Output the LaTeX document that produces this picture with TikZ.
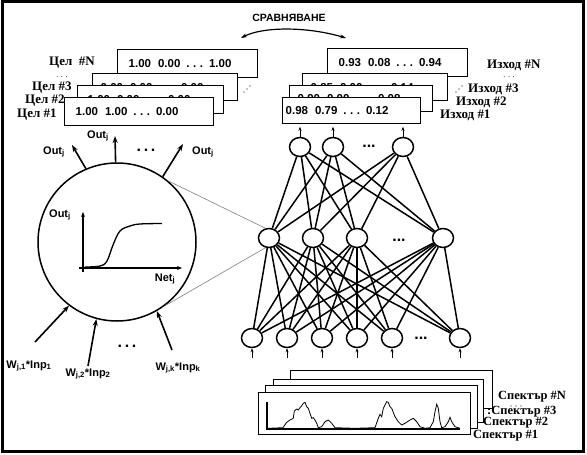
\documentclass[tikz,border=0pt]{standalone}
\usepackage{fontspec}
\setmainfont{Liberation Serif}
\setsansfont{Liberation Sans}
\usetikzlibrary{arrows.meta,shapes.geometric}

\newcommand{\vecrow}[3]{#1\hspace{7pt}#2\hspace{6pt}.\hspace{3.5pt}.\hspace{3.5pt}.\hspace{6pt}#3}
\newcommand{\lowidx}[1]{\textsubscript{#1}}

\begin{document}
\begin{tikzpicture}[
            x=1pt, y=-1pt,
            every node/.style={inner sep=0pt},
            vecbox/.style={draw, fill=white, line width=1.4pt, anchor=north west,
                           align=left, minimum height=28pt,
                           font=\sffamily\bfseries\fontsize{11.5}{11.5}\selectfont},
            setlabel/.style={anchor=west, font=\bfseries\fontsize{13}{13}\selectfont},
            speclabel/.style={anchor=west, font=\bfseries\fontsize{12.5}{12.5}\selectfont},
            sflabel/.style={font=\sffamily\bfseries\fontsize{11}{11}\selectfont},
            dotsrow/.style={font=\sffamily\bfseries\fontsize{16}{16}\selectfont},
            vdots/.style={font=\fontsize{8}{8}\selectfont},
            unit/.style={ellipse, draw, fill=white, line width=1.5pt,
                         minimum width=21pt, minimum height=19pt},
            link/.style={line width=1.5pt},
            bigtip/.style={-{Stealth[length=7pt,width=5pt]}, line width=1.6pt},
            smalltip/.style={-{Stealth[length=4pt,width=3pt]}, line width=1pt},
            specbox/.style={draw, fill=white, line width=1.4pt, anchor=north west}
          ]
          \useasboundingbox (0,0) rectangle (587,455);
          \draw[line width=3pt] (2,1.5) rectangle (583,451.5);

          % comparison arrow
          \node[font=\sffamily\bfseries\fontsize{10.5}{10.5}\selectfont] (cmp) at (289,18) {СРАВНЯВАНЕ};
          \coordinate (cmpL) at (241,38);
          \coordinate (cmpR) at (346,38);
          \draw[{Stealth[length=6pt,width=4pt]}-{Stealth[length=6pt,width=4pt]}, line width=1.2pt]
            (cmpL) .. controls (262,27) and (305,26) .. (cmpR);

          % target vectors
          \node[vecbox, inner xsep=11pt, text width=118pt] (tgtN) at (117,49) {\vecrow{1.00}{0.00}{1.00}};
          \node[vecbox, inner xsep=8pt, text width=129pt, minimum height=27pt] (tgtC) at (92,73) {\vecrow{0.00}{0.00}{0.00}};
          \node[vecbox, inner xsep=10pt, text width=126pt] (tgt3) at (77,85) {\vecrow{1.00}{0.00}{0.00}};
          \node[vecbox, inner xsep=11pt, text width=127pt] (tgt1) at (64,97) {\vecrow{1.00}{1.00}{0.00}};
          \foreach \d in {0,1,2}
            \fill (244+3*\d,92-3*\d) circle (0.7pt);
          \node[setlabel] (tgtNlbl) at (49,63) {Цел\enspace\#N};
          \node[vdots] (tgtvdots) at (62,77) {.\,\,.\,\,.};
          \node[setlabel] (tgt3lbl) at (32,88) {Цел \#3};
          \node[setlabel] (tgt2lbl) at (25,101) {Цел \#2};
          \node[setlabel] (tgt1lbl) at (17,115) {Цел \#1};

          % output vectors
          \node[vecbox, inner xsep=11pt, text width=118pt] (outN) at (327,48) {\vecrow{0.93}{0.08}{0.94}};
          \node[vecbox, inner xsep=8pt, text width=129pt, minimum height=27pt] (outC) at (302,73) {\vecrow{0.85}{0.00}{0.14}};
          \node[vecbox, inner xsep=8pt, text width=127pt, minimum height=26pt] (out3) at (289,85) {\vecrow{0.90}{0.00}{0.08}};
          \node[vecbox, inner xsep=3pt, text width=132pt, minimum height=26pt] (out1) at (282,97) {\vecrow{0.98}{0.79}{0.12}};
          \node[setlabel] (outNlbl) at (487,65) {Изход \#N};
          \node[vdots] (outvdots) at (509,77) {.\,\,.\,\,.};
          \foreach \d in {0,1,2}
            \fill (456+3*\d,92-3*\d) circle (0.7pt);
          \node[setlabel] (out3lbl) at (468,89) {Изход \#3};
          \node[setlabel] (out2lbl) at (456,102) {Изход \#2};
          \node[setlabel] (out1lbl) at (440,115) {Изход \#1};

          % network units
          \node[unit] (T1) at (300,147) {};
          \node[unit] (T2) at (333,147) {};
          \node[unit] (T3) at (403,147) {};
          \node[unit] (M1) at (269,238) {};
          \node[unit] (M2) at (313,238) {};
          \node[unit] (M3) at (357,238) {};
          \node[unit] (M4) at (443,238) {};
          \node[unit] (B1) at (252,338) {};
          \node[unit] (B2) at (287,338) {};
          \node[unit] (B3) at (322,338) {};
          \node[unit] (B4) at (357,338) {};
          \node[unit] (B5) at (392,338) {};
          \node[unit] (B6) at (460,338) {};
          \node[dotsrow] (Tdots) at (369,146) {...};
          \node[dotsrow] (Mdots) at (399,240) {...};
          \node[dotsrow] (Bdots) at (421,338) {...};
          \foreach \t in {T1,T2,T3}
            \foreach \m in {M1,M2,M3,M4}
              \draw[link] (\t) -- (\m);
          \foreach \m in {M1,M2,M3,M4}
            \foreach \b in {B1,B2,B3,B4,B5,B6}
              \draw[link] (\m) -- (\b);
          \foreach \t in {T1,T2,T3}
            \draw[smalltip] (\t.north) -- ++(0,-10);
          \foreach \b in {B1,B2,B3,B4,B5,B6}
            \draw[smalltip] ([yshift=-10pt]\b.south) -- (\b.south);

          % single neuron
          \node[circle, draw, line width=1.5pt, minimum size=158pt] (neuron) at (117,242) {};
          \draw[gray, line width=0.6pt] (neuron.50) -- (M1.110);
          \draw[gray, line width=0.6pt] (neuron.-53) -- (M1.250);
          \coordinate (outL) at (72,145);
          \coordinate (outM) at (115,136);
          \coordinate (outR) at (183,144);
          \draw[bigtip] (neuron.113) -- (outL);
          \draw[bigtip] (neuron.91) -- (outM);
          \draw[bigtip] (neuron.55) -- (outR);
          \node[sflabel] (outLlbl) at (54,152) {Out\lowidx{j}};
          \node[sflabel] (outMlbl) at (98,136) {Out\lowidx{j}};
          \node[sflabel] (outRlbl) at (203,152) {Out\lowidx{j}};
          \node[dotsrow] (outdotsN) at (146,150) {.\,.\,.};
          \coordinate (inA) at (35,342);
          \coordinate (inB) at (88,366);
          \coordinate (inC) at (172,350);
          \draw[bigtip] (inA) -- (neuron.233);
          \draw[bigtip] (inB) -- (neuron.255);
          \draw[bigtip] (inC) -- (neuron.300);
          \node[sflabel] (inAlbl) at (29,366) {W\lowidx{j,1}*Inp\lowidx{1}};
          \node[sflabel] (inBlbl) at (88,374) {W\lowidx{j,2}*Inp\lowidx{2}};
          \node[sflabel] (inClbl) at (178,368) {W\lowidx{j,k}*Inp\lowidx{k}};
          \node[dotsrow] (indots) at (127,346) {.\,.\,.};

          % transfer function
          \coordinate (axV0) at (83,272);
          \coordinate (axV1) at (83,212);
          \coordinate (axH0) at (79,268);
          \coordinate (axH1) at (182,268);
          \draw[-{Stealth[length=5pt,width=4pt]}, line width=1.2pt] (axV0) -- (axV1);
          \draw[-{Stealth[length=5pt,width=4pt]}, line width=1.2pt] (axH0) -- (axH1);
          \draw[line width=1.3pt] plot[smooth, tension=0.6] coordinates
            {(85,267) (100,266) (107,261) (113,245) (120,231) (130,226) (140,224) (162,223.5)};
          \node[sflabel] (axVlbl) at (60,215) {Out\lowidx{j}};
          \node[sflabel] (axHlbl) at (165,279) {Net\lowidx{j}};

          % spectra
          \node[specbox, minimum width=202pt, minimum height=38pt] (specN) at (290,370) {};
          \node[specbox, minimum width=210pt, minimum height=43pt] (spec3) at (273,379) {};
          \node[specbox, minimum width=212pt, minimum height=43pt] (spec2) at (265,385) {};
          \node[specbox, minimum width=212pt, minimum height=42pt] (spec1) at (258,392) {};
          \draw[line width=1.8pt] (267,402) -- (267,429) -- (460,429);
          \draw[line width=0.8pt] plot coordinates {(268,428.3) (283,427.7) (286.7,422.3) (290,420)
            (293.3,418.3) (294.3,411) (296.7,409) (298.3,410) (300,407.7) (301.7,405.7) (303.3,403.3)
            (305,402.3) (306.7,406.7) (308.3,408.3) (310,413.3) (311.7,418.3) (313.3,417.7) (315,420)
            (316.7,423.3) (318.3,427.7) (321.7,426.7) (325,421.7) (328.3,420) (331.7,423.3) (335,427.7)
            (355,428.3) (375,427.7) (378.3,418.3) (380,414.3) (381.7,416.7) (383.3,408.3) (386.7,401.7)
            (388.3,402.3) (390,406.7) (391.7,408.3) (395,416.7) (398.3,421.7) (401.7,425) (405,423.3)
            (410,420) (413.3,418.3) (416.7,421.7) (420,426.7) (425,428.3) (430,427.7) (433.3,421.7)
            (435,411.7) (436.7,404.3) (438.3,408.3) (440,421.7) (441.7,427.7) (445,426.7) (448.3,421.7)
            (450,417.3) (451.7,421.7) (455,426.7) (460,428.3)};
          \node[speclabel] (specNlbl) at (498,397) {Спектър \#N};
          \foreach \d in {0,1,2}
            \fill (511+5*\d,406) circle (0.6pt);
          \node[speclabel] (spec3lbl) at (487,412) {:Спектър \#3};
          \node[speclabel] (spec2lbl) at (483,423) {Спектър \#2};
          \node[speclabel] (spec1lbl) at (473,436) {Спектър \#1};

        \end{tikzpicture}
\end{document}
